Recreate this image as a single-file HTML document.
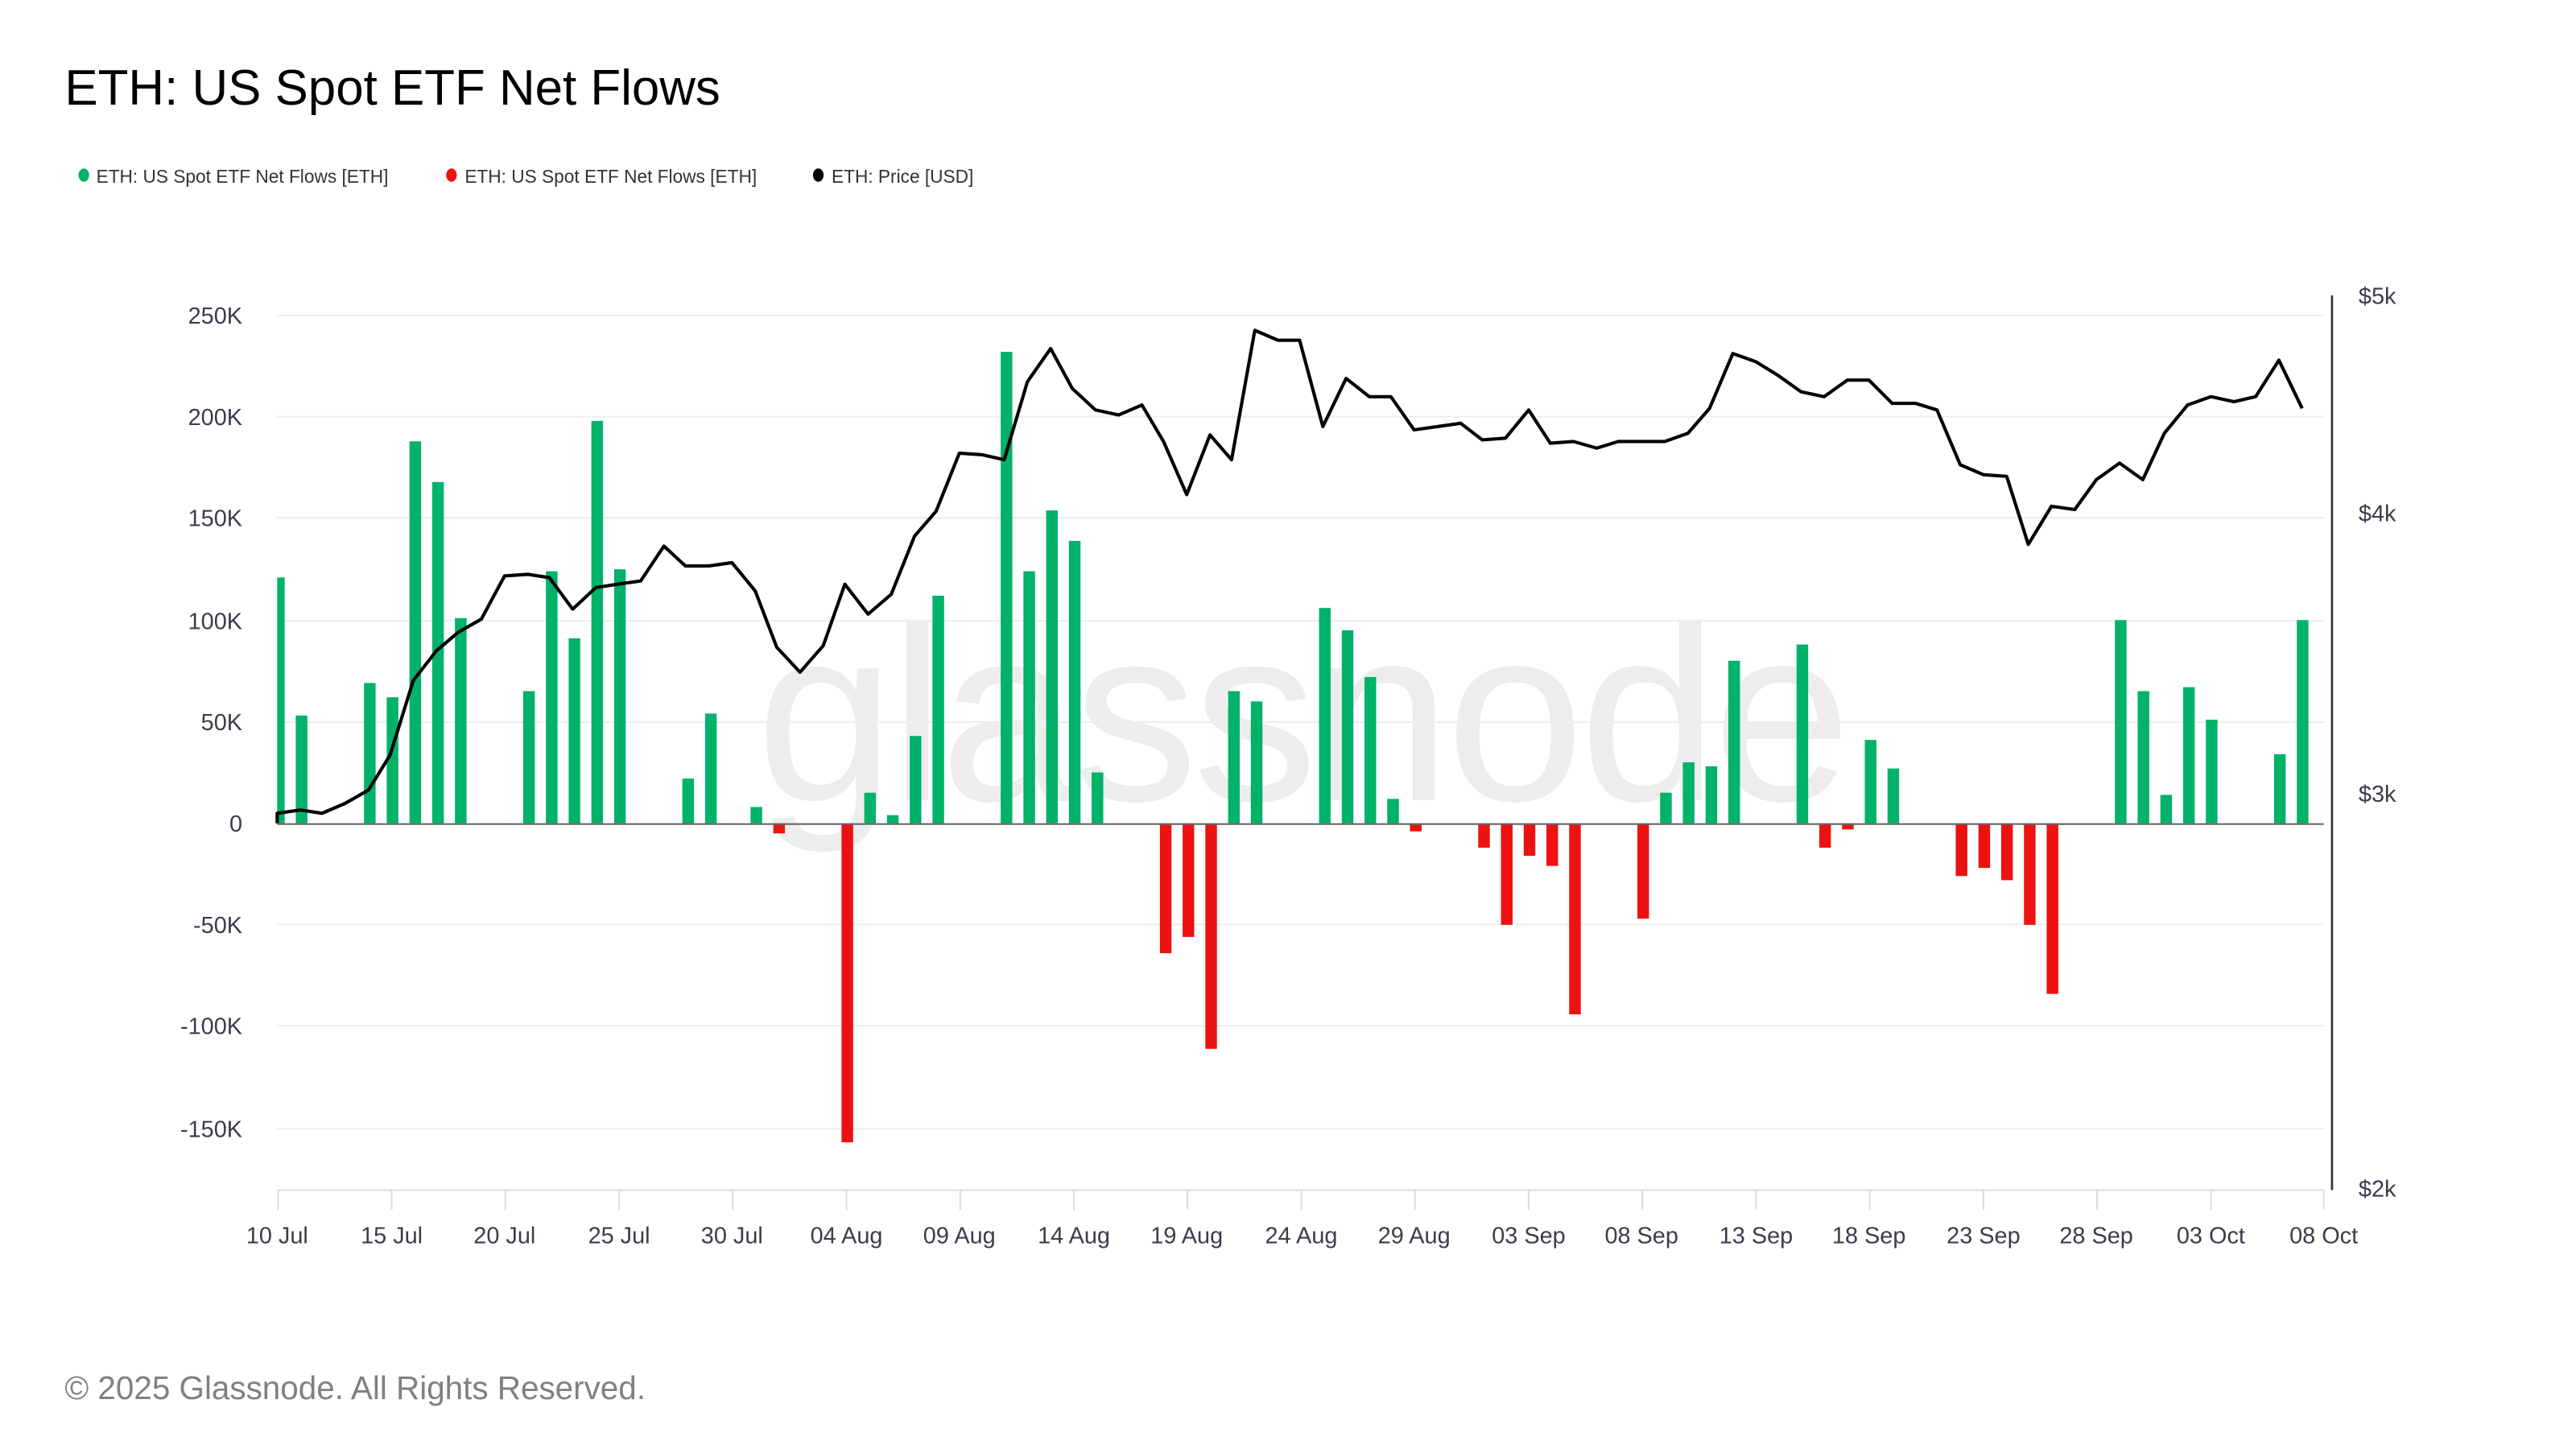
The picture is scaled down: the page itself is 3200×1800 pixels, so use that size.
<!DOCTYPE html>
<html><head><meta charset="utf-8"><style>
html,body{margin:0;padding:0;background:#fff;}
svg{display:block;}
text{font-family:"Liberation Sans",sans-serif;}
</style></head><body>
<svg width="3200" height="1800" viewBox="0 0 1552 873" preserveAspectRatio="none" xmlns="http://www.w3.org/2000/svg">
<rect width="1552" height="873" fill="#fff"/>
<text x="39" y="63" font-size="30" fill="#000">ETH: US Spot ETF Net Flows</text>
<g font-size="11" fill="#333">
<ellipse cx="50.5" cy="105.5" rx="3.2" ry="4" fill="#00b26a"/><text x="58" y="110">ETH: US Spot ETF Net Flows [ETH]</text>
<ellipse cx="272" cy="105.5" rx="3.2" ry="4" fill="#ee1111"/><text x="280" y="110">ETH: US Spot ETF Net Flows [ETH]</text>
<ellipse cx="493" cy="105.5" rx="3.2" ry="4" fill="#000"/><text x="501" y="110">ETH: Price [USD]</text>
</g>
<text x="784" y="482" font-size="150" fill="#ededed" text-anchor="middle" letter-spacing="-3">glassnode</text>
<g stroke="#eeeeee" stroke-width="1">
<line x1="167" x2="1400" y1="190" y2="190"/><line x1="167" x2="1400" y1="251" y2="251"/>
<line x1="167" x2="1400" y1="312" y2="312"/><line x1="167" x2="1400" y1="374" y2="374"/>
<line x1="167" x2="1400" y1="435" y2="435"/><line x1="167" x2="1400" y1="557" y2="557"/>
<line x1="167" x2="1400" y1="618" y2="618"/><line x1="167" x2="1400" y1="680" y2="680"/>
</g>
<g stroke="#dddddd" stroke-width="1">
<line x1="167" x2="1400" y1="717" y2="717"/>
<line x1="167.5" x2="167.5" y1="717" y2="729"/><line x1="236" x2="236" y1="717" y2="729"/><line x1="304.5" x2="304.5" y1="717" y2="729"/><line x1="373" x2="373" y1="717" y2="729"/><line x1="441.5" x2="441.5" y1="717" y2="729"/><line x1="510" x2="510" y1="717" y2="729"/><line x1="578.5" x2="578.5" y1="717" y2="729"/><line x1="647" x2="647" y1="717" y2="729"/><line x1="715.5" x2="715.5" y1="717" y2="729"/><line x1="784" x2="784" y1="717" y2="729"/><line x1="852.5" x2="852.5" y1="717" y2="729"/><line x1="921" x2="921" y1="717" y2="729"/><line x1="989.5" x2="989.5" y1="717" y2="729"/><line x1="1058" x2="1058" y1="717" y2="729"/><line x1="1126.5" x2="1126.5" y1="717" y2="729"/><line x1="1195" x2="1195" y1="717" y2="729"/><line x1="1263.5" x2="1263.5" y1="717" y2="729"/><line x1="1332" x2="1332" y1="717" y2="729"/><line x1="1400" x2="1400" y1="717" y2="729"/>
</g>
<g font-size="14" fill="#3a3d4a" text-anchor="end">
<text x="146" y="195">250K</text><text x="146" y="256">200K</text><text x="146" y="317">150K</text><text x="146" y="379">100K</text><text x="146" y="440">50K</text><text x="146" y="501">0</text><text x="146" y="562">-50K</text><text x="146" y="623">-100K</text><text x="146" y="685">-150K</text>
</g>
<g font-size="14" fill="#3a3d4a" text-anchor="middle">
<text x="167" y="749">10 Jul</text><text x="236" y="749">15 Jul</text><text x="304" y="749">20 Jul</text><text x="373" y="749">25 Jul</text><text x="441" y="749">30 Jul</text><text x="510" y="749">04 Aug</text><text x="578" y="749">09 Aug</text><text x="647" y="749">14 Aug</text><text x="715" y="749">19 Aug</text><text x="784" y="749">24 Aug</text><text x="852" y="749">29 Aug</text><text x="921" y="749">03 Sep</text><text x="989" y="749">08 Sep</text><text x="1058" y="749">13 Sep</text><text x="1126" y="749">18 Sep</text><text x="1195" y="749">23 Sep</text><text x="1263" y="749">28 Sep</text><text x="1332" y="749">03 Oct</text><text x="1400" y="749">08 Oct</text>
</g>
<g font-size="14" fill="#3a3d4a">
<text x="1421" y="183">$5k</text><text x="1421" y="314">$4k</text><text x="1421" y="483">$3k</text><text x="1421" y="721">$2k</text>
</g>
<line x1="1405" x2="1405" y1="178" y2="717" stroke="#333" stroke-width="1.3"/>
<defs><clipPath id="c"><rect x="167" y="150" width="1235" height="570"/></clipPath></defs>
<g clip-path="url(#c)" fill="#00b26a">
<rect x="164.5" y="347.9" width="7" height="148.1"/>
<rect x="178.2" y="431.1" width="7" height="64.9"/>
<rect x="219.3" y="411.5" width="7" height="84.5"/>
<rect x="233" y="420.1" width="7" height="75.9"/>
<rect x="246.7" y="265.9" width="7" height="230.1"/>
<rect x="260.4" y="290.4" width="7" height="205.6"/>
<rect x="274.1" y="372.4" width="7" height="123.6"/>
<rect x="315.2" y="416.4" width="7" height="79.6"/>
<rect x="328.9" y="344.2" width="7" height="151.8"/>
<rect x="342.6" y="384.6" width="7" height="111.4"/>
<rect x="356.3" y="253.6" width="7" height="242.4"/>
<rect x="370" y="343" width="7" height="153"/>
<rect x="411.1" y="469.1" width="7" height="26.9"/>
<rect x="424.8" y="429.9" width="7" height="66.1"/>
<rect x="452.2" y="486.2" width="7" height="9.8"/>
<rect x="520.7" y="477.6" width="7" height="18.4"/>
<rect x="534.4" y="491.1" width="7" height="4.9"/>
<rect x="548.1" y="443.4" width="7" height="52.6"/>
<rect x="561.8" y="358.9" width="7" height="137.1"/>
<rect x="602.9" y="212" width="7" height="284"/>
<rect x="616.6" y="344.2" width="7" height="151.8"/>
<rect x="630.3" y="307.5" width="7" height="188.5"/>
<rect x="644" y="325.9" width="7" height="170.1"/>
<rect x="657.7" y="465.4" width="7" height="30.6"/>
<rect x="739.9" y="416.4" width="7" height="79.6"/>
<rect x="753.6" y="422.6" width="7" height="73.4"/>
<rect x="794.7" y="366.3" width="7" height="129.7"/>
<rect x="808.4" y="379.7" width="7" height="116.3"/>
<rect x="822.1" y="407.9" width="7" height="88.1"/>
<rect x="835.8" y="481.3" width="7" height="14.7"/>
<rect x="1000.2" y="477.6" width="7" height="18.4"/>
<rect x="1013.9" y="459.3" width="7" height="36.7"/>
<rect x="1027.6" y="461.7" width="7" height="34.3"/>
<rect x="1041.3" y="398.1" width="7" height="97.9"/>
<rect x="1082.4" y="388.3" width="7" height="107.7"/>
<rect x="1123.5" y="445.8" width="7" height="50.2"/>
<rect x="1137.2" y="463" width="7" height="33"/>
<rect x="1274.2" y="373.6" width="7" height="122.4"/>
<rect x="1287.9" y="416.4" width="7" height="79.6"/>
<rect x="1301.6" y="478.9" width="7" height="17.1"/>
<rect x="1315.3" y="414" width="7" height="82"/>
<rect x="1329" y="433.6" width="7" height="62.4"/>
<rect x="1370.1" y="454.4" width="7" height="41.6"/>
<rect x="1383.8" y="373.6" width="7" height="122.4"/>
</g>
<g fill="#ee1111">
<rect x="465.9" y="496" width="7" height="6.1"/>
<rect x="507" y="496" width="7" height="192.2"/>
<rect x="698.8" y="496" width="7" height="78.3"/>
<rect x="712.5" y="496" width="7" height="68.5"/>
<rect x="726.2" y="496" width="7" height="135.9"/>
<rect x="849.5" y="496" width="7" height="4.9"/>
<rect x="890.6" y="496" width="7" height="14.7"/>
<rect x="904.3" y="496" width="7" height="61.2"/>
<rect x="918" y="496" width="7" height="19.6"/>
<rect x="931.7" y="496" width="7" height="25.7"/>
<rect x="945.4" y="496" width="7" height="115.1"/>
<rect x="986.5" y="496" width="7" height="57.5"/>
<rect x="1096.1" y="496" width="7" height="14.7"/>
<rect x="1109.8" y="496" width="7" height="3.7"/>
<rect x="1178.3" y="496" width="7" height="31.8"/>
<rect x="1192" y="496" width="7" height="26.9"/>
<rect x="1205.7" y="496" width="7" height="34.3"/>
<rect x="1219.4" y="496" width="7" height="61.2"/>
<rect x="1233.1" y="496" width="7" height="102.8"/>
</g>
<line x1="167" x2="1400" y1="496.5" y2="496.5" stroke="#666" stroke-width="1"/>
<polyline fill="none" stroke="#000" stroke-width="2" stroke-linejoin="round" points="167,496 167,490 181,488 194,490 208,484 222,476 235,455 249,410 263,392 276,381 290,373 304,347 318,346 331,348 345,367 359,354 372,352 386,350 400,329 413,341 427,341 441,339 455,356 468,390 482,405 496,389 509,352 523,370 537,358 551,323 564,308 578,273 592,274 605,277 619,230 633,210 646,234 660,247 674,250 688,244 701,266 715,298 729,262 742,277 756,199 770,205 783,205 797,257 811,228 825,239 838,239 852,259 866,257 880,255 893,265 907,264 921,247 934,267 948,266 962,270 975,266 989,266 1003,266 1017,261 1030,246 1044,213 1058,218 1071,226 1085,236 1099,239 1113,229 1126,229 1140,243 1154,243 1167,247 1181,280 1195,286 1209,287 1222,328 1236,305 1250,307 1263,289 1277,279 1291,289 1304,261 1318,244 1332,239 1346,242 1359,239 1373,217 1387,246"/>
<text x="39" y="843" font-size="19.6" fill="#808080">© 2025 Glassnode. All Rights Reserved.</text>
</svg>
</body></html>
